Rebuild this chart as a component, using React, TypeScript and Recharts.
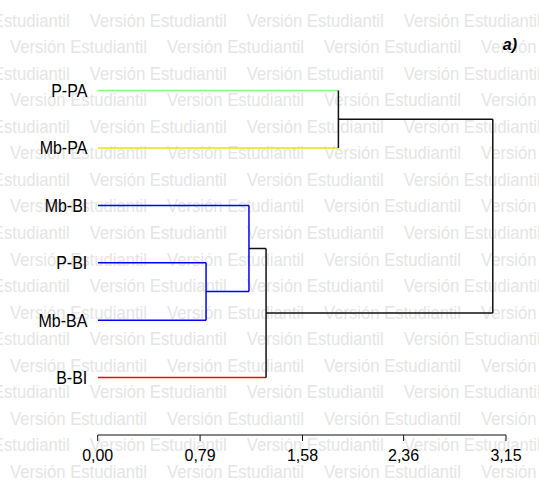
import { LineChart, Line, XAxis, YAxis } from 'recharts';

// leaves, top to bottom
const LEAVES = ['P-PA', 'Mb-PA', 'Mb-BI', 'P-BI', 'Mb-BA', 'B-BI'];
const LEAF_COLORS = ['#80ff80', '#e6e600', '#0000ff', '#0000ff', '#0000ff', '#ff0000'];

// merges: children are leaf names or earlier merges (m0, m1, ...)
const MERGE_LEFT = ['P-PA', 'P-BI', 'Mb-BI', 'm2', 'm0'];
const MERGE_RIGHT = ['Mb-PA', 'Mb-BA', 'm1', 'B-BI', 'm3'];
const MERGE_HEIGHTS = [1.857, 0.836, 1.167, 1.299, 3.048];
const MERGE_COLORS = ['#111111', '#0000ff', '#0000ff', '#111111', '#111111'];
const MERGE_OUT_COLORS = ['#111111', '#0000ff', '#111111', '#111111', '#111111'];

const X_TICKS = [0, 0.79, 1.58, 2.36, 3.15];
const WATERMARK = 'Versión Estudiantil';
const FONT = '"Liberation Sans", Arial, sans-serif';

type Pt = { x: number; y: number };
type Seg = { pts: Pt[]; color: string };

function buildSegments(): Seg[] {
  const nodes: Record<string, { x: number; y: number; out: string }> = {};
  LEAVES.forEach((name, i) => {
    nodes[name] = { x: 0, y: i, out: LEAF_COLORS[i] };
  });
  const segs: Seg[] = [];
  MERGE_HEIGHTS.forEach((h, i) => {
    const a = nodes[MERGE_LEFT[i]];
    const b = nodes[MERGE_RIGHT[i]];
    segs.push({ pts: [{ x: a.x, y: a.y }, { x: h, y: a.y }], color: a.out });
    segs.push({ pts: [{ x: b.x, y: b.y }, { x: h, y: b.y }], color: b.out });
    segs.push({ pts: [{ x: h, y: a.y }, { x: h, y: b.y }], color: MERGE_COLORS[i] });
    nodes['m' + i] = { x: h, y: (a.y + b.y) / 2, out: MERGE_OUT_COLORS[i] };
  });
  return segs;
}

function Watermark() {
  const rows = [];
  for (let k = 0; k < 18; k++) {
    const y = 26.6 + 26.55 * k;
    const x0 = k % 2 === 0 ? -67.3 : 10;
    for (let j = 0; j < 4; j++) {
      rows.push(
        <text key={k + '-' + j} transform={`translate(${x0 + 157 * j},${y}) scale(1,1.08)`}
          fontSize={16.5} fill="#e5e5e5" textLength={137} lengthAdjust="spacingAndGlyphs">
          {WATERMARK}
        </text>
      );
    }
  }
  return (
    <svg width={539} height={482} style={{ position: 'absolute', left: 0, top: 0 }} fontFamily={FONT}>
      {rows}
      <text x={517} y={50} textAnchor="end" fontSize={16} fontWeight="bold" fontStyle="italic" fill="#000">
        a)
      </text>
    </svg>
  );
}

// leaf label, a little taller than wide like the original
function LeafTick(props: any) {
  const { x, y, payload } = props;
  return (
    <text transform={`translate(${x},${y}) scale(1,1.12)`} dy="0.355em" textAnchor="end"
      fontSize={16} fontFamily={FONT} fill="#000">
      {LEAVES[payload.value] ?? ''}
    </text>
  );
}

export default function App() {
  const segs = buildSegments();
  return (
    <div style={{ position: 'absolute', left: 0, top: 0, width: 539, height: 482, background: '#fff' }}>
      <Watermark />
      <div style={{ position: 'absolute', left: 0, top: 0 }}>
        <LineChart width={539} height={482} margin={{ top: 33.2, right: 33, bottom: 17, left: 0 }}>
          <XAxis
            type="number"
            dataKey="x"
            domain={[0, 3.15]}
            ticks={X_TICKS}
            interval={0}
            allowDataOverflow
            height={30}
            tickSize={6}
            tickMargin={9}
            stroke="#111"
            tick={{ fill: '#000', fontSize: 16, fontFamily: FONT }}
            tickFormatter={(v: number) => v.toFixed(2).replace('.', ',')}
          />
          <YAxis
            type="number"
            dataKey="y"
            domain={[-1, 6]}
            reversed
            allowDataOverflow
            ticks={[0, 1, 2, 3, 4, 5]}
            interval={0}
            width={97.7}
            tickLine={false}
            axisLine={false}
            tickSize={0}
            tickMargin={10.4}
            tick={<LeafTick />}
          />
          {segs.map((s, i) => (
            <Line
              key={i}
              data={s.pts}
              dataKey="y"
              type="linear"
              stroke={s.color}
              strokeWidth={1.5}
              dot={false}
              activeDot={false}
              isAnimationActive={false}
            />
          ))}
        </LineChart>
      </div>
    </div>
  );
}
